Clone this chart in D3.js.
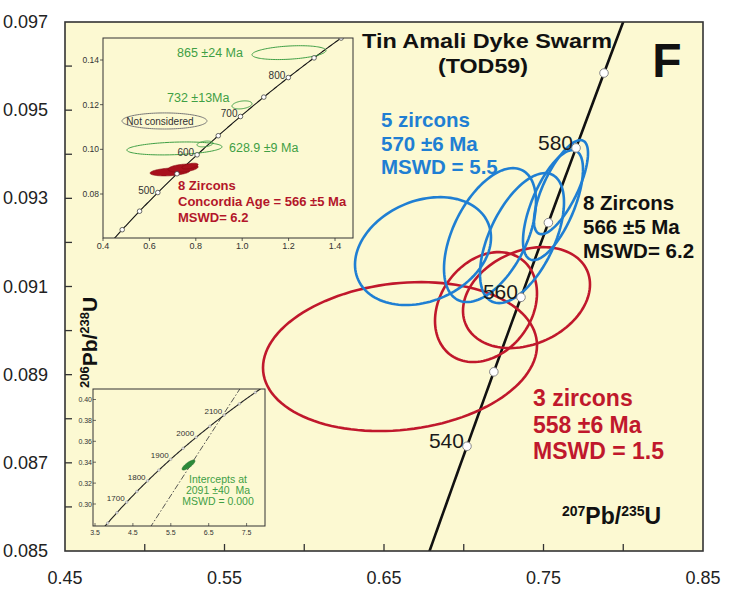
<!DOCTYPE html>
<html>
<head>
<meta charset="utf-8">
<script src="https://cdn.jsdelivr.net/npm/d3@7"></script>
<style>
  body { margin: 0; background: #ffffff; }
  text { font-family: "Liberation Sans", Arial, Helvetica, sans-serif; white-space: pre; }
</style>
</head>
<body>
<svg id="chart" width="731" height="590"></svg>
<script>
// U-Pb decay constants (per year)
const L238 = 1.55125e-10;
const L235 = 9.8485e-10;

// ---- main Wetherill concordia: tick labels and age markers ----
const xTickLabels = [0.45, 0.55, 0.65, 0.75, 0.85];
const xTickMarks = [0.5, 0.55, 0.6, 0.65, 0.7, 0.75, 0.8];
const yTickLabels = [0.085, 0.087, 0.089, 0.091, 0.093, 0.095, 0.097];
const yTickMarks = [0.086, 0.087, 0.088, 0.089, 0.090, 0.091, 0.092, 0.093, 0.094, 0.095, 0.096];
const markerAges = [540, 550, 560, 570, 580, 590];
const labelledAges = [540, 560, 580];

// 2-sigma error ellipses: [207Pb/235U, 206Pb/238U, sx, sy, rho]
const blueEllipses = [
  [0.67445, 0.091803, 0.04263, 0.001224, 0.25],
  [0.71646, 0.092166, 0.02884, 0.001519, 0.50],
  [0.73652, 0.092098, 0.02633, 0.001474, 0.55],
  [0.75596, 0.092846, 0.01881, 0.001247, 0.65],
  [0.76097, 0.093254, 0.01693, 0.001066, 0.72]
];
const redEllipses = [
  [0.66003, 0.089410, 0.08589, 0.001689, 0.15],
  [0.71395, 0.090533, 0.03197, 0.001247, 0.25],
  [0.73934, 0.090748, 0.03981, 0.001145, 0.26]
];

// ---- inset A: 400-900 Ma overview ----
const insetAxTicks = [0.4, 0.6, 0.8, 1.0, 1.2, 1.4];
const insetAyTicks = [0.08, 0.10, 0.12, 0.14];
const insetAMarkerAges = [400, 450, 500, 550, 600, 650, 700, 750, 800, 850, 900];
const insetALabelledAges = [500, 600, 700, 800];
const insetAGreen = [
  [1.2017, 0.1433, 0.1595, 0.0031, 0.30],
  [0.9991, 0.1199, 0.0430, 0.0018, 0.30],
  [0.7080, 0.1004, 0.2050, 0.0029, 0.25],
  [0.8397, 0.1024, 0.0345, 0.0013, 0.30]
];
const insetAGrey = [[0.665, 0.1127, 0.183, 0.0036, 0.0]];
const insetARed = [
  [0.6888, 0.0899, 0.086, 0.0018, 0.30],
  [0.7448, 0.0916, 0.065, 0.0018, 0.30],
  [0.7750, 0.0925, 0.035, 0.0013, 0.50]
];

// ---- inset B: Palaeoproterozoic discordia ----
const insetBxTicks = [3.5, 4.5, 5.5, 6.5, 7.5];
const insetByTicks = [0.30, 0.32, 0.34, 0.36, 0.38, 0.40];
const insetBMarkerAges = [1600, 1650, 1700, 1750, 1800, 1850, 1900, 1950, 2000, 2050, 2100, 2150, 2200];
const insetBLabelledAges = [1700, 1800, 1900, 2000, 2100];
const upperIntercept = 2091;
const lowerIntercept = 0;
const insetBGreen = [[5.967, 0.3373, 0.17, 0.0048, 0.8]];

// ---------------------------------------------------------------
const svg = d3.select("#chart");
const pb206 = t => Math.exp(L238 * t * 1e6) - 1;
const pb207 = t => Math.exp(L235 * t * 1e6) - 1;

function ellipsePoints(e, n = 120) {
  const [cx, cy, sx, sy, r] = e;
  const k = Math.sqrt(1 - r * r);
  return d3.range(n).map(i => {
    const a = 2 * Math.PI * i / n;
    return [cx + sx * Math.cos(a), cy + sy * (r * Math.cos(a) + k * Math.sin(a))];
  });
}

const fmt3 = d3.format(".3f");

// ---------------- main panel ----------------
const x = d3.scaleLinear().domain([0.45, 0.85]).range([65, 703]);
const y = d3.scaleLinear().domain([0.085, 0.097]).range([551, 22]);

svg.append("defs").append("clipPath").attr("id", "mainClip")
  .append("rect").attr("x", 65).attr("y", 22).attr("width", 638).attr("height", 529);

svg.append("rect").attr("x", 65).attr("y", 22).attr("width", 638).attr("height", 529)
  .attr("fill", "#fcf9d2");

const plot = svg.append("g").attr("clip-path", "url(#mainClip)");
const line = d3.line().x(d => x(d[0])).y(d => y(d[1]));
const closed = d3.line().x(d => x(d[0])).y(d => y(d[1])).curve(d3.curveLinearClosed);

// concordia curve
const ages = d3.range(520, 602, 1);
plot.append("path").datum(ages.map(t => [pb207(t), pb206(t)]))
  .attr("d", line).attr("fill", "none").attr("stroke", "#111").attr("stroke-width", 2.6);

// ellipses
plot.selectAll("path.red").data(redEllipses).join("path").attr("class", "red")
  .attr("d", e => closed(ellipsePoints(e))).attr("fill", "none")
  .attr("stroke", "#c0182c").attr("stroke-width", 2.6);
plot.selectAll("path.blue").data(blueEllipses).join("path").attr("class", "blue")
  .attr("d", e => closed(ellipsePoints(e))).attr("fill", "none")
  .attr("stroke", "#1f7fd3").attr("stroke-width", 2.6);

// age markers
plot.selectAll("circle.age").data(markerAges).join("circle").attr("class", "age")
  .attr("cx", t => x(pb207(t))).attr("cy", t => y(pb206(t))).attr("r", 4.3)
  .attr("fill", "#ffffff").attr("stroke", "#888").attr("stroke-width", 1);
svg.selectAll("text.age").data(labelledAges).join("text").attr("class", "age")
  .attr("x", t => x(pb207(t)) - 3).attr("y", t => y(pb206(t)) + 2)
  .attr("text-anchor", "end").attr("font-size", 21).attr("fill", "#1a1a1a")
  .text(t => t);

// frame and ticks
svg.append("rect").attr("x", 65).attr("y", 22).attr("width", 638).attr("height", 529)
  .attr("fill", "none").attr("stroke", "#333").attr("stroke-width", 1.6);
svg.selectAll("line.xt").data(xTickMarks).join("line").attr("class", "xt")
  .attr("x1", d => x(d)).attr("x2", d => x(d)).attr("y1", 551).attr("y2", 544)
  .attr("stroke", "#333").attr("stroke-width", 1.3);
svg.selectAll("line.yt").data(yTickMarks).join("line").attr("class", "yt")
  .attr("y1", d => y(d)).attr("y2", d => y(d)).attr("x1", 65).attr("x2", 72)
  .attr("stroke", "#333").attr("stroke-width", 1.3);
svg.selectAll("text.xl").data(xTickLabels).join("text").attr("class", "xl")
  .attr("x", d => x(d)).attr("y", 584).attr("text-anchor", "middle")
  .attr("font-size", 18).attr("fill", "#222").text(d => d.toFixed(2));
svg.selectAll("text.yl").data(yTickLabels).join("text").attr("class", "yl")
  .attr("x", 48).attr("y", d => y(d) + 6).attr("text-anchor", "end")
  .attr("font-size", 18).attr("fill", "#222").text(d => fmt3(d));

// axis titles with superscripts
function isotopeLabel(sel, a, b, c, d, big, small) {
  sel.append("tspan").attr("font-size", small).attr("dy", -8).text(a);
  sel.append("tspan").attr("font-size", big).attr("dy", 8).text(b);
  sel.append("tspan").attr("font-size", small).attr("dy", -8).text(c);
  sel.append("tspan").attr("font-size", big).attr("dy", 8).text(d);
}
const xTitle = svg.append("text").attr("x", 562).attr("y", 524)
  .attr("font-weight", "bold").attr("fill", "#111");
isotopeLabel(xTitle, "207", "Pb/", "235", "U", 23, 14);
const yTitle = svg.append("text").attr("transform", "translate(97,388) rotate(-90)")
  .attr("font-weight", "bold").attr("fill", "#111");
isotopeLabel(yTitle, "206", "Pb/", "238", "U", 21, 13);

// titles
svg.append("text").attr("x", 362).attr("y", 48)
  .attr("font-size", 21).attr("font-weight", "bold").attr("fill", "#111")
  .attr("textLength", 250).attr("lengthAdjust", "spacingAndGlyphs")
  .text("Tin Amali Dyke Swarm");
svg.append("text").attr("x", 438).attr("y", 73)
  .attr("font-size", 21).attr("font-weight", "bold").attr("fill", "#111")
  .attr("textLength", 90).attr("lengthAdjust", "spacingAndGlyphs")
  .text("(TOD59)");
svg.append("text").attr("x", 667).attr("y", 77).attr("text-anchor", "middle")
  .attr("font-size", 48).attr("font-weight", "bold").attr("fill", "#111").text("F");

function block(lines, x0, y0, dy, color, size) {
  lines.forEach((s, i) => svg.append("text").attr("x", x0).attr("y", y0 + i * dy)
    .attr("font-size", size).attr("font-weight", "bold").attr("fill", color).text(s));
}
block(["5 zircons", "570 ±6 Ma", "MSWD = 5.5"], 381, 127, 23.5, "#1f7fd3", 20.5);
block(["8 Zircons", "566 ±5 Ma", "MSWD= 6.2"], 583, 210, 24, "#111", 20.5);
block(["3 zircons", "558 ±6 Ma", "MSWD = 1.5"], 533, 406, 26.5, "#c0182c", 23);

// ---------------- inset A ----------------
const ax = d3.scaleLinear().domain([0.4, 1.4]).range([103, 335]);
const ay = d3.scaleLinear().domain([0.08, 0.14]).range([194, 60]);
const aLine = d3.line().x(d => ax(d[0])).y(d => ay(d[1]));
const aClosed = d3.line().x(d => ax(d[0])).y(d => ay(d[1])).curve(d3.curveLinearClosed);
const insA = svg.append("g");
svg.select("defs").append("clipPath").attr("id", "clipA")
  .append("rect").attr("x", 103).attr("y", 38).attr("width", 250).attr("height", 200);
insA.append("rect").attr("x", 103).attr("y", 38).attr("width", 250).attr("height", 200)
  .attr("fill", "#fcf9d2");
const insAc = insA.append("g").attr("clip-path", "url(#clipA)");
insAc.append("path").datum(d3.range(370, 902, 2).map(t => [pb207(t), pb206(t)]))
  .attr("d", aLine).attr("fill", "none").attr("stroke", "#111").attr("stroke-width", 1.1);
insAc.selectAll("path.g").data(insetAGreen).join("path").attr("class", "g")
  .attr("d", e => aClosed(ellipsePoints(e))).attr("fill", "none")
  .attr("stroke", "#3f9f45").attr("stroke-width", 1);
insAc.selectAll("path.gr").data(insetAGrey).join("path").attr("class", "gr")
  .attr("d", e => aClosed(ellipsePoints(e))).attr("fill", "none")
  .attr("stroke", "#777").attr("stroke-width", 1);
insAc.selectAll("path.r").data(insetARed).join("path").attr("class", "r")
  .attr("d", e => aClosed(ellipsePoints(e))).attr("fill", "#a8101c")
  .attr("stroke", "#8a0c16").attr("stroke-width", 0.6);
insAc.selectAll("circle").data(insetAMarkerAges).join("circle")
  .attr("cx", t => ax(pb207(t))).attr("cy", t => ay(pb206(t))).attr("r", 2.3)
  .attr("fill", "#fff").attr("stroke", "#444").attr("stroke-width", 0.8);
insA.selectAll("text.al").data(insetALabelledAges).join("text").attr("class", "al")
  .attr("x", t => ax(pb207(t)) - 3).attr("y", t => ay(pb206(t)) + 1)
  .attr("text-anchor", "end").attr("font-size", 10).attr("fill", "#333").text(t => t);
insA.append("rect").attr("x", 103).attr("y", 38).attr("width", 250).attr("height", 200)
  .attr("fill", "none").attr("stroke", "#333").attr("stroke-width", 1);
insA.selectAll("line.axt").data(insetAxTicks).join("line").attr("class", "axt")
  .attr("x1", d => ax(d)).attr("x2", d => ax(d)).attr("y1", 238).attr("y2", 241)
  .attr("stroke", "#333").attr("stroke-width", 0.8);
insA.selectAll("text.axl").data(insetAxTicks).join("text").attr("class", "axl")
  .attr("x", d => ax(d)).attr("y", 249).attr("text-anchor", "middle")
  .attr("font-size", 9).attr("fill", "#333").text(d => d.toFixed(1));
insA.selectAll("line.ayt").data(insetAyTicks).join("line").attr("class", "ayt")
  .attr("y1", d => ay(d)).attr("y2", d => ay(d)).attr("x1", 100).attr("x2", 103)
  .attr("stroke", "#333").attr("stroke-width", 0.8);
insA.selectAll("text.ayl").data(insetAyTicks).join("text").attr("class", "ayl")
  .attr("x", 99).attr("y", d => ay(d) + 3).attr("text-anchor", "end")
  .attr("font-size", 8.5).attr("fill", "#333").text(d => d.toFixed(2));
const greenTxt = [["865 ±24 Ma", 177, 57], ["732 ±13Ma", 167, 102], ["628.9 ±9 Ma", 229, 152]];
insA.selectAll("text.gt").data(greenTxt).join("text").attr("class", "gt")
  .attr("x", d => d[1]).attr("y", d => d[2]).attr("font-size", 12.5)
  .attr("fill", "#3f9f45").text(d => d[0]);
insA.append("text").attr("x", 160).attr("y", 125).attr("text-anchor", "middle")
  .attr("font-size", 10).attr("fill", "#333").text("Not considered");
[["8 Zircons", 190], ["Concordia Age = 566 ±5 Ma", 206], ["MSWD= 6.2", 222]].forEach(d =>
  insA.append("text").attr("x", 178).attr("y", d[1]).attr("font-size", 13)
    .attr("font-weight", "bold").attr("fill", "#b3162a").text(d[0]));

// ---------------- inset B ----------------
const bx = d3.scaleLinear().domain([3.5, 7.5]).range([95, 246.6]);
const by = d3.scaleLinear().domain([0.30, 0.40]).range([504, 399.5]);
const bLine = d3.line().x(d => bx(d[0])).y(d => by(d[1]));
const bClosed = d3.line().x(d => bx(d[0])).y(d => by(d[1])).curve(d3.curveLinearClosed);
const insB = svg.append("g");
svg.select("defs").append("clipPath").attr("id", "clipB")
  .append("rect").attr("x", 93).attr("y", 389).attr("width", 172).attr("height", 137);
insB.append("rect").attr("x", 93).attr("y", 389).attr("width", 172).attr("height", 137)
  .attr("fill", "#fcf9d2");
const insBc = insB.append("g").attr("clip-path", "url(#clipB)");
// discordia through the two intercepts
const p0 = [pb207(lowerIntercept), pb206(lowerIntercept)];
const p1 = [pb207(upperIntercept), pb206(upperIntercept)];
const ext = [p0[0] + (p1[0] - p0[0]) * 1.3, p0[1] + (p1[1] - p0[1]) * 1.3];
insBc.append("path").datum([p0, ext]).attr("d", bLine).attr("fill", "none")
  .attr("stroke", "#444").attr("stroke-width", 0.9).attr("stroke-dasharray", "6,2,1.5,2");
insBc.append("path").datum(d3.range(1550, 2260, 5).map(t => [pb207(t), pb206(t)]))
  .attr("d", bLine).attr("fill", "none").attr("stroke", "#222").attr("stroke-width", 1.1);
insBc.selectAll("circle").data(insetBMarkerAges).join("circle")
  .attr("cx", t => bx(pb207(t))).attr("cy", t => by(pb206(t))).attr("r", 1.3)
  .attr("fill", "#ddd").attr("stroke", "#999").attr("stroke-width", 0.5);
insBc.selectAll("path.g").data(insetBGreen).join("path").attr("class", "g")
  .attr("d", e => bClosed(ellipsePoints(e))).attr("fill", "#2c8a3a")
  .attr("stroke", "#1f6e2c").attr("stroke-width", 0.6);
insB.selectAll("text.bl").data(insetBLabelledAges).join("text").attr("class", "bl")
  .attr("x", t => bx(pb207(t)) - 2).attr("y", t => by(pb206(t)) - 1)
  .attr("text-anchor", "end").attr("font-size", 8).attr("fill", "#333").text(t => t);
insB.append("rect").attr("x", 93).attr("y", 389).attr("width", 172).attr("height", 137)
  .attr("fill", "none").attr("stroke", "#333").attr("stroke-width", 1);
insB.selectAll("line.bxt").data(insetBxTicks).join("line").attr("class", "bxt")
  .attr("x1", d => bx(d)).attr("x2", d => bx(d)).attr("y1", 526).attr("y2", 523)
  .attr("stroke", "#333").attr("stroke-width", 0.7);
insB.selectAll("text.bxl").data(insetBxTicks).join("text").attr("class", "bxl")
  .attr("x", d => bx(d)).attr("y", 535).attr("text-anchor", "middle")
  .attr("font-size", 7).attr("fill", "#333").text(d => d.toFixed(1));
insB.selectAll("line.byt").data(insetByTicks).join("line").attr("class", "byt")
  .attr("y1", d => by(d)).attr("y2", d => by(d)).attr("x1", 93).attr("x2", 96)
  .attr("stroke", "#333").attr("stroke-width", 0.7);
insB.selectAll("text.byl").data(insetByTicks).join("text").attr("class", "byl")
  .attr("x", 92).attr("y", d => by(d) + 2.5).attr("text-anchor", "end")
  .attr("font-size", 7).attr("fill", "#333").text(d => d.toFixed(2));
[["Intercepts at", 483], [upperIntercept + " ±40  Ma", 494], ["MSWD = 0.000", 505]].forEach(d =>
  insB.append("text").attr("x", 218).attr("y", d[1]).attr("text-anchor", "middle")
    .attr("font-size", 10.5).attr("fill", "#3f9f45").text(d[0]));
</script>
</body>
</html>
